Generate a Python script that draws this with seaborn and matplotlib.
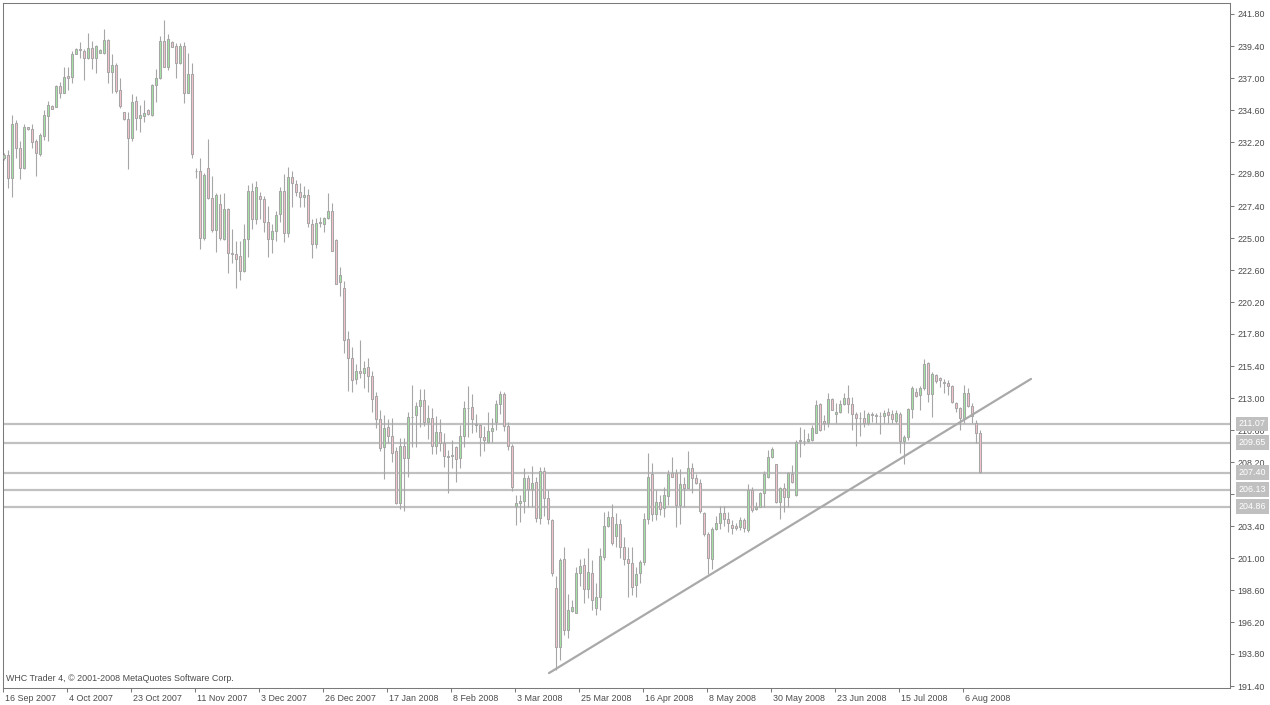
import numpy as np
import pandas as pd
import matplotlib
matplotlib.use("Agg")
import matplotlib.pyplot as plt
import matplotlib.transforms as mtransforms
import seaborn as sns

# Dados diarios (O, H, L, C)
opens = [230.98, 231.23, 229.48, 233.60, 231.73, 230.28, 233.30, 233.18, 232.28, 231.30,
         232.68, 234.18, 234.90, 234.85, 236.40, 235.90, 237.18, 237.10, 238.83, 239.15,
         239.05, 238.53, 239.23, 238.53, 238.90, 238.90, 239.85, 237.48, 237.98, 236.10,
         234.43, 233.93, 232.53, 235.28, 233.98, 234.18, 234.60, 234.23, 236.45, 237.03,
         239.78, 237.85, 239.70, 239.40, 238.10, 239.40, 235.90, 237.28, 230.03, 230.03,
         224.98, 230.23, 227.98, 225.60, 227.55, 224.90, 227.15, 223.85, 223.78, 223.65,
         222.53, 224.90,
         228.53, 226.40, 228.15, 227.90, 226.18, 224.90, 225.53, 226.78, 228.53, 225.35,
         229.55, 229.05, 228.43, 228.05, 228.23, 226.03, 224.53, 226.10, 226.03, 226.48,
         227.03, 224.85, 221.73, 221.23, 217.40, 215.98, 214.40, 215.03, 214.85, 215.30,
         214.65, 213.15, 211.40, 209.30, 210.80, 210.15, 209.03, 205.10, 209.40, 208.48,
         211.55, 211.73, 212.43, 212.85, 211.18, 211.48, 209.40, 210.48, 209.65, 208.65,
         208.65, 209.30, 208.48, 210.15, 212.23, 212.30, 211.03, 210.98, 210.05, 209.73,
         210.55,
         211.23, 212.53, 213.28, 210.90, 209.40, 204.90, 205.10, 205.30, 206.98, 206.15,
         206.68, 203.98, 207.55, 205.48, 203.85, 198.73, 194.35, 200.93, 195.60, 197.03,
         196.85, 199.85, 200.48, 198.65, 199.90, 197.28, 198.05, 201.05, 203.40, 204.10,
         202.68, 203.55, 201.85, 200.90, 200.60, 198.98, 199.85, 200.73, 203.90, 207.30,
         204.28, 205.23, 204.73, 205.65, 207.40, 207.35, 204.98, 206.55, 206.23, 207.73,
         206.98, 206.60, 204.40, 202.80, 200.90, 203.15, 203.60, 204.35, 203.90, 203.48,
         203.43, 203.35, 203.85, 203.10, 206.10, 204.65, 204.85, 205.85, 207.10, 208.55,
         208.03, 205.23, 206.23, 205.60, 207.30, 205.73, 209.85, 209.78, 209.80, 209.85,
         210.35, 212.53, 211.28, 211.15, 212.90, 211.80, 211.93, 212.53, 212.98, 212.53,
         211.78, 211.53, 211.48, 211.10, 211.78, 211.73, 211.68, 211.65, 211.93, 211.78,
         211.30, 211.80, 209.80, 210.05, 212.15, 213.48, 213.23, 213.73, 215.60, 213.30,
         214.73, 214.48, 214.18, 214.15, 213.90, 212.60, 212.23, 211.48, 213.35, 212.43,
         211.10, 210.35]

highs = [231.35, 231.60, 234.23, 233.85, 232.28, 233.53, 233.35, 233.53, 232.40, 232.85,
         234.60, 235.28, 234.98, 236.48, 236.73, 237.85, 237.85, 239.03, 239.23, 239.68,
         239.18, 240.35, 239.80, 239.48, 239.15, 240.68, 239.95, 238.80, 238.10, 236.98,
         234.48, 234.48, 235.78, 235.68, 234.98, 235.35, 234.65, 236.55, 237.68, 240.15,
         241.35, 240.30, 239.75, 239.60, 239.60, 239.68, 238.90, 238.10, 230.22, 231.03,
         229.85, 232.43, 229.68, 228.40, 228.30, 228.35, 227.23, 225.68, 224.78, 224.78,
         226.08, 228.95,
         229.15, 229.30, 228.48, 228.15, 227.40, 226.05, 227.03, 228.80, 229.78, 230.35,
         230.03, 229.35, 229.10, 228.90, 228.65, 226.40, 226.48, 226.55, 226.55, 228.40,
         227.65, 224.93, 222.85, 221.80, 218.05, 216.80, 215.55, 217.35, 215.80, 215.98,
         215.05, 213.43, 212.10, 211.73, 211.40, 211.53, 209.35, 209.98, 209.98, 211.93,
         213.98, 212.68, 213.65, 213.65, 212.50, 212.23, 211.65, 211.40, 210.35, 209.10,
         209.85, 209.40, 211.00, 212.80, 213.90, 213.30, 211.80, 211.03, 210.90, 211.93,
         211.50,
         212.85, 213.53, 213.48, 211.23, 209.53, 205.73, 205.73, 207.73, 207.23, 207.90,
         207.10, 207.80, 207.85, 206.10, 203.90, 199.65, 201.03, 201.80, 198.30, 197.85,
         200.35, 200.90, 200.98, 201.73, 200.85, 199.10, 201.73, 204.48, 204.55, 205.05,
         204.35, 203.90, 202.60, 201.85, 201.80, 200.35, 200.85, 204.40, 208.85, 208.10,
         206.10, 205.73, 206.30, 207.60, 208.55, 207.65, 207.65, 207.10, 209.03, 208.10,
         207.30, 206.90, 204.48, 202.98, 203.35, 204.15, 204.90, 204.90, 204.48, 203.85,
         203.60, 204.10, 203.98, 206.53, 206.35, 205.23, 205.98, 207.55, 209.10, 209.30,
         208.03, 206.35, 206.60, 207.48, 207.98, 209.85, 210.85, 210.68, 210.35, 210.98,
         212.85, 212.60, 211.73, 213.40, 212.98, 212.60, 212.85, 213.40, 213.98, 213.10,
         211.98, 211.98, 212.10, 211.98, 211.98, 211.85, 211.98, 212.10, 212.23, 212.10,
         212.10, 211.98, 210.23, 212.23, 213.90, 213.73, 213.90, 215.90, 215.73, 214.98,
         214.80, 214.60, 214.40, 214.35, 213.98, 212.73, 212.35, 213.98, 213.73, 212.60,
         211.35, 210.60]

lows = [230.85, 228.78, 228.10, 231.03, 229.40, 230.15, 233.10, 231.73, 229.68, 231.18,
        232.35, 232.30, 234.65, 234.80, 235.53, 235.85, 236.10, 236.65, 238.78, 238.53,
        236.85, 238.43, 237.68, 237.35, 238.85, 238.80, 236.60, 235.85, 235.85, 234.73,
        233.85, 230.18, 232.30, 233.10, 232.98, 233.68, 234.20, 234.18, 235.18, 236.90,
        237.85, 237.60, 239.30, 237.03, 238.05, 235.10, 235.85, 231.03, 229.48, 224.15,
        224.85, 227.90, 225.48, 223.93, 224.85, 224.85, 222.35, 223.10, 221.23, 221.85,
        222.48, 223.60,
        225.65, 226.03, 226.40, 225.48, 223.60, 223.90, 224.80, 226.23, 224.73, 225.10,
        227.35, 228.18, 227.35, 227.35, 225.85, 223.48, 224.23, 225.85, 225.43, 226.43,
        224.05, 221.53, 220.68, 216.35, 213.55, 213.43, 214.03, 214.48, 213.73, 213.48,
        211.93, 210.73, 209.00, 206.90, 209.60, 208.18, 205.03, 204.65, 204.55, 207.05,
        209.35, 209.30, 210.85, 210.90, 209.90, 208.78, 208.78, 209.03, 207.80, 205.85,
        207.73, 206.73, 207.78, 209.30, 210.10, 210.35, 210.48, 208.68, 209.05, 209.65,
        209.73,
        210.60, 211.78, 210.55, 209.10, 206.03, 203.48, 203.68, 204.35, 204.85, 204.80,
        203.73, 203.55, 204.15, 203.55, 199.65, 192.60, 193.35, 195.23, 195.03, 196.93,
        196.85, 198.90, 197.60, 197.98, 197.10, 196.73, 197.10, 200.85, 203.30, 201.98,
        201.85, 200.98, 200.48, 198.05, 198.23, 198.05, 199.10, 200.48, 203.55, 203.80,
        203.85, 204.23, 204.10, 204.98, 207.10, 203.35, 203.55, 204.85, 206.23, 205.90,
        206.55, 204.40, 202.65, 199.80, 200.15, 203.10, 203.15, 203.40, 202.98, 202.80,
        203.10, 203.10, 202.98, 202.98, 204.48, 204.60, 204.80, 204.85, 206.98, 208.48,
        205.10, 203.90, 204.48, 204.85, 206.60, 205.68, 208.60, 209.48, 209.73, 209.80,
        210.35, 210.55, 210.60, 210.85, 212.08, 211.10, 211.85, 212.48, 211.85, 210.60,
        209.43, 210.15, 210.85, 210.98, 211.23, 211.10, 210.30, 211.10, 211.10, 211.10,
        211.10, 208.90, 208.03, 209.85, 211.48, 213.10, 212.10, 213.60, 212.73, 211.60,
        214.10, 213.85, 213.35, 213.23, 212.60, 211.98, 210.60, 211.10, 212.35, 211.10,
        209.60, 207.35]

closes = [231.23, 229.48, 233.53, 231.73, 230.28, 233.30, 233.15, 232.23, 231.40, 232.73,
          234.23, 234.95, 234.70, 236.40, 235.90, 237.08, 237.03, 238.83, 239.18, 239.13,
          238.53, 239.23, 238.53, 239.40, 239.10, 239.83, 237.48, 237.98, 236.03, 234.90,
          233.93, 232.48, 235.18, 233.98, 234.20, 234.35, 234.28, 236.48, 236.98, 239.78,
          237.85, 239.90, 239.35, 238.10, 239.40, 235.90, 237.28, 231.28, 230.00, 224.98,
          229.73, 227.98, 225.60, 228.23, 224.98, 227.15, 223.85, 223.83, 223.40, 222.53,
          224.90, 228.53,
          226.40, 228.80, 227.90, 226.18, 224.90, 225.53, 226.70, 228.53, 225.35, 229.55,
          229.10, 228.48, 228.05, 228.23, 226.10, 224.53, 226.15, 226.23, 226.48, 227.03,
          224.05, 221.53, 222.23, 217.35, 215.98, 214.35, 215.03, 214.85, 215.23, 214.65,
          212.90, 211.40, 209.23, 210.73, 210.15, 208.85, 205.15, 209.40, 208.48, 211.55,
          211.55, 212.43, 212.85, 211.18, 211.48, 209.40, 210.48, 209.65, 208.68, 208.55,
          208.73, 208.43, 210.15, 212.23, 212.23, 211.40, 210.98, 210.05, 209.85, 210.55,
          210.73,
          212.53, 213.28, 210.90, 209.40, 206.30, 205.10, 205.30, 206.98, 206.15, 206.65,
          203.98, 207.55, 205.48, 203.90, 199.90, 194.35, 200.85, 195.60, 197.10, 197.35,
          199.90, 200.40, 198.65, 199.93, 197.85, 198.10, 201.15, 203.40, 204.10, 202.15,
          203.55, 201.85, 200.90, 200.60, 198.85, 199.80, 200.73, 203.90, 207.05, 204.28,
          205.23, 204.65, 205.73, 207.28, 207.10, 204.98, 206.55, 206.23, 207.73, 206.98,
          206.60, 204.53, 202.80, 200.98, 203.15, 203.60, 204.35, 203.90, 203.60, 203.23,
          203.23, 203.85, 203.23, 206.10, 204.60, 204.80, 205.85, 207.30, 208.55, 209.18,
          205.18, 206.23, 205.60, 207.40, 206.73, 209.73, 209.78, 209.75, 209.90, 210.73,
          212.48, 210.60, 211.15, 212.90, 212.10, 211.98, 212.53, 212.98, 212.53, 211.78,
          211.48, 211.50, 211.10, 211.78, 211.75, 211.68, 211.65, 211.85, 211.73, 211.40,
          211.85, 209.80, 210.05, 212.15, 213.73, 213.18, 213.73, 215.55, 213.30, 214.80,
          214.30, 214.35, 214.13, 213.93, 212.68, 212.23, 211.48, 213.35, 212.43, 211.65,
          210.35, 207.43]

# Rotulos do eixo de datas (um a cada 16 barras)
date_labels = ["16 Sep 2007", "4 Oct 2007", "23 Oct 2007", "11 Nov 2007", "3 Dec 2007",
               "26 Dec 2007", "17 Jan 2008", "8 Feb 2008", "3 Mar 2008", "25 Mar 2008",
               "16 Apr 2008", "8 May 2008", "30 May 2008", "23 Jun 2008", "15 Jul 2008",
               "6 Aug 2008"]

# Niveis horizontais e linha de tendencia
levels = [211.07, 209.65, 207.40, 206.13, 204.86]
trend_idx = [136.25, 256.75]
trend_price = [192.37, 214.43]

df = pd.DataFrame({"open": opens, "high": highs, "low": lows, "close": closes})
df["idx"] = np.arange(len(df))
df["up"] = df["close"] >= df["open"]

sns.set_theme(style="white")
plt.rcParams["font.family"] = ["Liberation Sans", "DejaVu Sans"]

txt_color = "#4a4a4a"
frame_color = "#7a7a7a"
candle_edge = "#a6a6a6"

fig = plt.figure(figsize=(12.7, 7.05), dpi=100)
ax = fig.add_axes([2.5 / 1270, 17 / 705, 1227 / 1270, 685 / 705])

# Niveis horizontais
for lvl in levels:
    ax.axhline(lvl, color="#c0c0c0", lw=1.6, zorder=1)

# Pavios
ax.vlines(df["idx"], df["low"], df["high"], color=candle_edge, lw=0.8, zorder=2)

# Corpos
body_bottom = np.minimum(df["open"], df["close"])
body_height = np.abs(df["close"] - df["open"])
fills = np.where(df["up"], "#a3e4a3", "#f6c4cc")
ax.bar(df["idx"], body_height, bottom=body_bottom, width=0.7, color=fills,
       edgecolor=candle_edge, linewidth=0.75, zorder=3)

# Linha de tendencia
sns.lineplot(x=trend_idx, y=trend_price, ax=ax, color="#a9a9a9", lw=1.6, zorder=4)

ax.set_xlim(-0.375, 306.375)
ax.set_ylim(191.25, 242.625)

# Eixo Y a direita
yt = np.round(np.arange(191.40, 241.81, 2.40), 2)
ax.yaxis.tick_right()
ax.set_yticks(yt)
ax.set_yticklabels([f"{v:.2f}" for v in yt])
ax.tick_params(axis="y", which="major", direction="out", length=3, width=0.75,
               color=frame_color, pad=2.5, labelsize=6.4, labelcolor=txt_color, right=True)

# Eixo X
xt = np.arange(len(date_labels)) * 16 - 0.25
ax.set_xticks(xt)
ax.set_xticklabels(date_labels, ha="left")
ax.tick_params(axis="x", which="major", direction="out", length=3, width=0.75,
               color=frame_color, pad=1.5, labelsize=6.4, labelcolor=txt_color, bottom=True)
shift = mtransforms.ScaledTranslation(2 / 100, 0, fig.dpi_scale_trans)
for lab in ax.get_xticklabels():
    lab.set_transform(lab.get_transform() + shift)

for sp in ax.spines.values():
    sp.set_visible(True)
    sp.set_color(frame_color)
    sp.set_linewidth(0.75)

ax.set_xlabel("")
ax.set_ylabel("")

# Etiquetas dos niveis no eixo de precos
for lvl in levels:
    ax.annotate(f"{lvl:.2f}", xy=(1, lvl), xycoords=("axes fraction", "data"),
                xytext=(6.8, 0), textcoords="offset points", ha="left", va="center",
                fontsize=6.4, color="white", zorder=10, annotation_clip=False,
                bbox=dict(boxstyle="square,pad=0.3", fc="#c0c0c0", ec="none"))

# Copyright
ax.annotate("WHC Trader 4, \u00a9 2001-2008 MetaQuotes Software Corp.", xy=(0, 0),
            xycoords="axes fraction", xytext=(2.4, 6.5), textcoords="offset points",
            ha="left", va="center", fontsize=6.4, color=txt_color)

fig.savefig("out.png", dpi=100)
